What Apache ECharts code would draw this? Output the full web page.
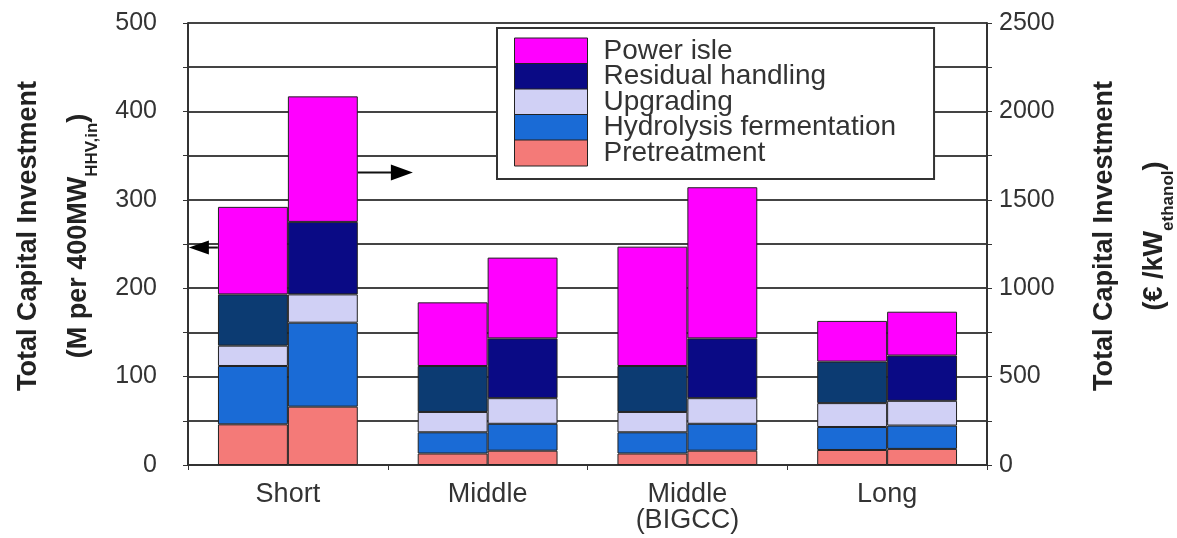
<!DOCTYPE html>
<html>
<head>
<meta charset="utf-8">
<script src="https://cdn.jsdelivr.net/npm/echarts@6/dist/echarts.min.js"></script>
<style>
  html, body { margin: 0; padding: 0; background: #fff; }
  #chart { width: 1177px; height: 538px; }
</style>
</head>
<body>
<div id="chart"></div>
<script>
var categories = ['Short', 'Middle', 'Middle\n(BIGCC)', 'Long'];
var components = ['Power isle', 'Residual handling', 'Upgrading', 'Hydrolysis fermentation', 'Pretreatment'];

// left bars: M per 400MW (left axis)
var leftPretreatment = [46, 13, 13, 17];
var leftHydrolysis = [66, 24, 24, 26];
var leftUpgrading = [23, 23, 23, 27];
var leftResidual = [58, 52, 52, 47];
var leftPower = [99, 72, 135, 46];

// right bars: €/kW ethanol (right axis)
var rightPretreatment = [330, 81, 81, 91];
var rightHydrolysis = [475, 152, 152, 132];
var rightUpgrading = [160, 145, 145, 140];
var rightResidual = [410, 338, 338, 256];
var rightPower = [710, 457, 855, 248];

var colors = {
  'Power isle': '#ff00ff',
  'Residual handling': '#0a0a85',
  'Upgrading': '#d0d0f5',
  'Hydrolysis fermentation': '#1a6bd6',
  'Pretreatment': '#f47a78'
};
var leftResidualColor = '#0c3b72';

var font = 'Liberation Sans, Arial, sans-serif';
var myChart = echarts.init(document.getElementById('chart'));

function bar(name, data, axis, color) {
  return {
    name: name,
    type: 'bar',
    stack: axis === 0 ? 'L' : 'R',
    yAxisIndex: axis,
    barWidth: '35%',
    barGap: '0%',
    data: data,
    itemStyle: { color: color, borderColor: '#222', borderWidth: 1 },
    emphasis: { disabled: true }
  };
}

var series = [
  bar('Pretreatment', leftPretreatment, 0, colors['Pretreatment']),
  bar('Hydrolysis fermentation', leftHydrolysis, 0, colors['Hydrolysis fermentation']),
  bar('Upgrading', leftUpgrading, 0, colors['Upgrading']),
  bar('Residual handling', leftResidual, 0, leftResidualColor),
  bar('Power isle', leftPower, 0, colors['Power isle']),
  bar('Pretreatment', rightPretreatment, 1, colors['Pretreatment']),
  bar('Hydrolysis fermentation', rightHydrolysis, 1, colors['Hydrolysis fermentation']),
  bar('Upgrading', rightUpgrading, 1, colors['Upgrading']),
  bar('Residual handling', rightResidual, 1, colors['Residual handling']),
  bar('Power isle', rightPower, 1, colors['Power isle'])
];

var titleRich = {
  a: { fontSize: 27, fontWeight: 'bold', color: '#222', lineHeight: 50 },
  b: { fontSize: 27, fontWeight: 'bold', color: '#222', lineHeight: 50 },
  s: { fontSize: 17, fontWeight: 'bold', color: '#222', verticalAlign: 'bottom', lineHeight: 17, padding: [0, 0, 3, 0] }
};

var option = {
  animation: false,
  textStyle: { fontFamily: font },
  grid: { left: 188, right: 190, top: 23, bottom: 73, outerBoundsMode: 'none', containLabel: false },
  legend: {
    orient: 'vertical',
    left: 497,
    top: 28,
    padding: [9, 38, 12, 17],
    itemWidth: 73,
    itemHeight: 26,
    itemGap: -2.5,
    backgroundColor: '#fff',
    borderColor: '#333',
    borderWidth: 2,
    borderRadius: 0,
    selectedMode: false,
    textStyle: { fontSize: 28, color: '#333', fontFamily: font, padding: [0, 0, 0, 11] },
    data: components.map(function (c) {
      return { name: c, icon: 'rect', itemStyle: { color: colors[c], borderColor: '#222', borderWidth: 1 } };
    })
  },
  xAxis: {
    type: 'category',
    data: categories,
    axisLine: { lineStyle: { color: '#333', width: 2 } },
    axisTick: { show: true, length: 5, lineStyle: { color: '#333' } },
    axisLabel: { fontSize: 27, color: '#333', margin: 17, lineHeight: 26 }
  },
  yAxis: [{
    type: 'value',
    min: 0, max: 500, interval: 50,
    name: '{a|Total Capital Investment}\n{b|(M per 400MW}{s|HHV,in}{b|)}',
    nameLocation: 'middle',
    nameRotate: 90,
    nameGap: 84,
    nameTextStyle: { rich: titleRich, padding: [0, 0, 0, 16] },
    axisLine: { show: true, lineStyle: { color: '#333', width: 2 } },
    axisTick: { show: true, length: 5, lineStyle: { color: '#333' } },
    axisLabel: {
      fontSize: 25, color: '#333', margin: 31,
      formatter: function (v) { return v % 100 === 0 ? v : ''; }
    },
    splitLine: { show: true, lineStyle: { color: '#444', width: 2 } }
  }, {
    type: 'value',
    min: 0, max: 2500, interval: 250,
    name: '{a|Total Capital Investment}\n{b|(€ /kW}{s|ethanol}{b|)}',
    nameLocation: 'middle',
    nameRotate: 90,
    nameGap: 93,
    nameTextStyle: { rich: titleRich, padding: [0, 0, 0, 16] },
    axisLine: { show: true, lineStyle: { color: '#333', width: 2 } },
    axisTick: { show: true, length: 5, lineStyle: { color: '#333' } },
    axisLabel: {
      fontSize: 25, color: '#333', margin: 12,
      formatter: function (v) { return v % 500 === 0 ? v : ''; }
    },
    splitLine: { show: false }
  }],
  series: series
};

myChart.setOption(option, true);

// arrows pointing to the axis each bar pair belongs to
var cx = myChart.convertToPixel({ xAxisIndex: 0 }, 'Short');
var axisX = cx - 100;
var yLeft = myChart.convertToPixel({ yAxisIndex: 0 }, 246);
var yRight = myChart.convertToPixel({ yAxisIndex: 1 }, 1655);
myChart.setOption({
  graphic: [
    { type: 'line', shape: { x1: axisX + 12, y1: yLeft, x2: cx - 70, y2: yLeft }, style: { stroke: '#111', lineWidth: 2 }, z: 100 },
    { type: 'polygon', shape: { points: [[axisX + 1, yLeft], [axisX + 21, yLeft - 7], [axisX + 21, yLeft + 7]] }, style: { fill: '#000' }, z: 100 },
    { type: 'line', shape: { x1: cx + 70, y1: yRight, x2: cx + 105, y2: yRight }, style: { stroke: '#111', lineWidth: 2 }, z: 100 },
    { type: 'polygon', shape: { points: [[cx + 125, yRight], [cx + 103, yRight - 8], [cx + 103, yRight + 8]] }, style: { fill: '#000' }, z: 100 }
  ]
});

window.addEventListener('resize', function () {
  myChart.resize();
});
</script>
</body>
</html>
